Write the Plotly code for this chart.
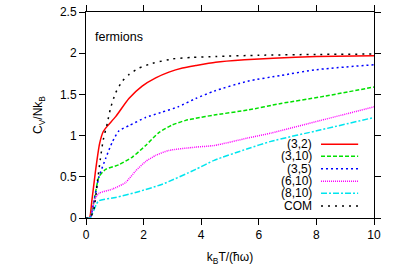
import plotly.graph_objects as go

# ---- data ----
x_32 = [0, 0.12, 0.2, 0.33, 0.47, 0.6, 0.74, 1.03, 1.49, 1.95, 2.42, 2.88, 3.35, 3.81, 4.5, 5.5, 6.5, 8.0, 10.0]
y_32 = [0, 0.0, 0.2, 0.57, 0.9, 1.05, 1.115, 1.23, 1.45, 1.60, 1.70, 1.77, 1.82, 1.85, 1.89, 1.92, 1.94, 1.96, 1.97]

x_310 = [0, 0.14, 0.3, 0.45, 0.68, 1.14, 1.61, 2.07, 2.53, 3.0, 3.46, 3.81, 4.45, 5.61, 6.77, 8.16, 10.0]
y_310 = [0, 0.0, 0.25, 0.5, 0.59, 0.646, 0.74, 0.88, 1.036, 1.13, 1.185, 1.21, 1.25, 1.31, 1.39, 1.47, 1.59]

x_35 = [0, 0.14, 0.3, 0.45, 0.68, 0.91, 1.14, 1.49, 2.07, 2.6, 3.2, 3.81, 4.45, 5.61, 6.77, 8.0, 10.0]
y_35 = [0, 0.0, 0.25, 0.5, 0.72, 0.92, 1.056, 1.12, 1.22, 1.28, 1.35, 1.45, 1.54, 1.66, 1.73, 1.80, 1.86]

x_610 = [0, 0.14, 0.3, 0.45, 0.91, 1.37, 1.72, 2.07, 2.42, 2.88, 3.81, 4.45, 5.61, 6.42, 8.16, 10.0]
y_610 = [0, 0.0, 0.22, 0.30, 0.35, 0.43, 0.57, 0.685, 0.76, 0.82, 0.86, 0.88, 0.97, 1.03, 1.185, 1.35]

x_810 = [0, 0.14, 0.35, 0.45, 1.03, 1.72, 2.65, 3.81, 4.45, 5.61, 6.42, 8.16, 10.0]
y_810 = [0, 0.0, 0.16, 0.21, 0.25, 0.31, 0.41, 0.59, 0.70, 0.84, 0.93, 1.07, 1.22]

x_com = [0, 0.14, 0.27, 0.4, 0.5, 0.6, 0.74, 0.85, 1.03, 1.26, 1.49, 1.84, 2.30, 3.0, 3.69, 4.5, 6.0, 8.0, 10.0]
y_com = [0, 0.0, 0.1, 0.45, 0.72, 0.95, 1.15, 1.33, 1.52, 1.66, 1.74, 1.82, 1.876, 1.93, 1.95, 1.96, 1.975, 1.985, 1.99]

x_ticks = [0, 2, 4, 6, 8, 10]
y_ticks = [0, 0.5, 1, 1.5, 2, 2.5]
y_tick_text = ["0", "0.5", "1", "1.5", "2", "2.5"]

series = [
    ("(3,2)", x_32, y_32, "#ff0000", "solid"),
    ("(3,10)", x_310, y_310, "#00e000", "4px,2px"),
    ("(3,5)", x_35, y_35, "#0000ff", "2px,3px"),
    ("(6,10)", x_610, y_610, "#ff00ff", "1px,1px"),
    ("(8,10)", x_810, y_810, "#00e5ee", "6px,2px,2px,2px"),
    ("COM", x_com, y_com, "#000000", "2px,5px"),
]

fig = go.Figure()
for name, xs, ys, col, dash in series:
    fig.add_trace(go.Scatter(x=xs, y=ys, mode="lines", name=name,
                             line=dict(color=col, width=1.5, dash=dash, shape="spline", smoothing=0.6),
                             showlegend=False, hoverinfo="skip"))

# manual legend (text on the left, sample on the right)
font = dict(family="Liberation Sans, Arial, sans-serif", size=12, color="#000000")
row_y = [0.358, 0.300, 0.239, 0.179, 0.120, 0.058]
for (name, xs, ys, col, dash), yy in zip(series, row_y):
    fig.add_annotation(x=0.790, y=yy, xref="paper", yref="paper", text=name, showarrow=False,
                       xanchor="right", yanchor="middle", font=font)
    fig.add_shape(type="line", xref="paper", yref="paper", x0=0.816, x1=0.945, y0=yy, y1=yy,
                  line=dict(color=col, width=1.5, dash=dash))

fig.add_annotation(x=0.26, y=2.2, xref="x", yref="y", text="fermions", showarrow=False,
                   xanchor="left", yanchor="middle", font=dict(font, size=12.5))

axis_common = dict(showgrid=False, zeroline=False, showline=True, linecolor="#000000", linewidth=1,
                   mirror="allticks", ticks="outside", ticklen=6, tickcolor="#000000", tickwidth=1,
                   tickfont=font)

fig.update_xaxes(range=[0, 10], tickvals=x_ticks, ticktext=[str(v) for v in x_ticks],
                 title=dict(text="k<sub>B</sub>T/(ħω)", font=font, standoff=11), **axis_common)
fig.update_yaxes(range=[0, 2.5], tickvals=y_ticks, ticktext=y_tick_text,
                 title=dict(text="C<sub>V</sub>/Nk<sub>B</sub>", font=font, standoff=14), **axis_common)

fig.update_layout(width=399, height=279, margin=dict(l=86, r=25, t=5, b=61),
                  paper_bgcolor="white", plot_bgcolor="white", font=font)

fig.write_html("out.html", config={"displayModeBar": False, "staticPlot": True},
               post_script="document.body.style.margin='0';")
